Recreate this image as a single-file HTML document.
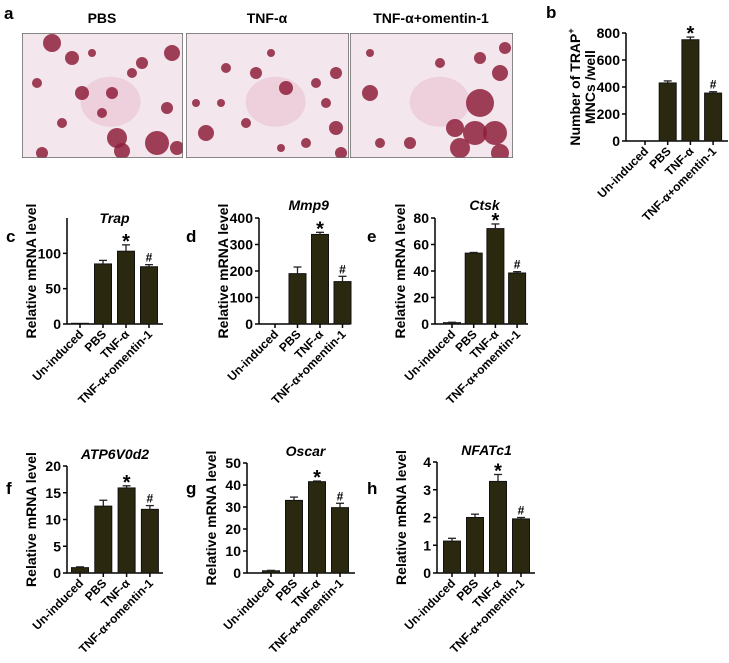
<!DOCTYPE html>
<html><head><meta charset="utf-8"><style>
body{margin:0;background:#fff;}
svg{display:block;font-family:"Liberation Sans",Arial,sans-serif;}
</style></head><body>
<svg id="fig" width="729" height="663" viewBox="0 0 729 663">
<defs>
<clipPath id="c0"><rect x="22" y="33" width="161" height="125"/></clipPath>
<clipPath id="c1"><rect x="186" y="33" width="163" height="125"/></clipPath>
<clipPath id="c2"><rect x="350" y="33" width="163" height="125"/></clipPath>
</defs>
<g>
<text x="4" y="19" font-size="17" font-weight="bold">a</text>
<text x="102" y="23" font-size="14" font-weight="bold" text-anchor="middle">PBS</text>
<text x="267" y="23" font-size="14" font-weight="bold" text-anchor="middle">TNF-α</text>
<text x="431" y="23" font-size="14" font-weight="bold" text-anchor="middle">TNF-α+omentin-1</text>
<g id="imgs"></g>
</g>
<g id="charts"></g>
</svg>
<script>
const categories=["Un-induced","PBS","TNF-α","TNF-α+omentin-1"];
const bVals=[0,430,750,355], bErr=[0,15,20,10], bTicks=[0,200,400,600,800];
const cVals=[1,85,103,81], cErr=[0,5,9,3], cTicks=[0,50,100];
const dVals=[0,190,338,160], dErr=[0,25,8,20], dTicks=[0,100,200,300,400];
const eVals=[1,53.5,72,38.5], eErr=[0.3,0.5,3.5,1], eTicks=[0,20,40,60,80];
const fVals=[1,12.5,15.9,11.9], fErr=[0.15,1.1,0.4,0.7], fTicks=[0,5,10,15,20];
const gVals=[1,33,41.5,29.7], gErr=[0.2,1.5,0.3,2], gTicks=[0,10,20,30,40,50];
const hVals=[1.15,2.0,3.3,1.95], hErr=[0.1,0.12,0.25,0.05], hTicks=[0,1,2,3,4];
const marks=["","","*","#"];
const NS="http://www.w3.org/2000/svg";
function mk(tag,attrs,parent){const e=document.createElementNS(NS,tag);for(const k in attrs)e.setAttribute(k,attrs[k]);parent.appendChild(e);return e;}

const imgs=document.getElementById('imgs');
const boxes=[[22,33,161,125],[186,33,163,125],[350,33,163,125]];
const blobs=[
 [[30,10,9],[50,25,7],[120,30,6],[150,20,8],[135,110,12],[95,105,10],[60,60,7],[90,60,6],[40,90,5],[110,40,5],[70,20,4],[15,50,5],[145,75,6],[80,80,5],[100,118,8],[20,120,6],[155,115,7]],
 [[40,35,5],[70,40,6],[100,55,7],[130,50,5],[150,40,6],[20,100,8],[60,90,5],[150,95,7],[120,110,5],[85,20,4],[35,70,4],[140,70,5],[95,115,4],[155,120,6],[10,70,4]],
 [[20,60,8],[130,70,14],[145,100,12],[110,115,10],[150,40,8],[60,110,6],[30,110,5],[90,30,5],[130,25,6],[105,95,9],[155,15,6],[20,20,4],[125,100,12],[150,120,9]]];
boxes.forEach((b,i)=>{
 const g=mk('g',{'clip-path':'url(#c'+i+')'},imgs);
 
 
 mk('rect',{x:b[0],y:b[1],width:b[2],height:b[3],fill:'#f3e6ec'},g);
 mk('ellipse',{cx:b[0]+b[2]*0.55,cy:b[1]+b[3]*0.55,rx:30,ry:25,fill:'#eccbd8',opacity:0.8},g);
 blobs[i].forEach(p=>mk('circle',{cx:b[0]+p[0],cy:b[1]+p[1],r:p[2],fill:'#8e1f3c',opacity:0.85},g));
 mk('rect',{x:b[0],y:b[1],width:b[2],height:b[3],fill:'none',stroke:'#666','stroke-width':1.5},g);
});

const charts=document.getElementById('charts');
function chart(o){
 const g=mk('g',{},charts);
 
 
 const sy=v=>o.y0-(v/o.max)*(o.y0-o.yTop);
 const sx=i=>o.x0+o.first+i*o.step;
 const L=mk('text',{x:o.lx,y:o.ly,'font-size':17,'font-weight':'bold'},g);L.textContent=o.id;
 
 
 if(o.title){const t=mk('text',{x:sx(1.5),y:o.ty,'font-size':14,'font-weight':'bold','font-style':'italic','text-anchor':'middle'},g);t.textContent=o.title;
  
  }
 o.ytitle.forEach((s,k)=>{
  const yt=mk('text',{transform:`translate(${o.x0-o.ytOff+k*15},${(o.y0+o.yTop)/2}) rotate(-90)`,'font-size':14,'font-weight':'bold','text-anchor':'middle'},g);
  
  
  yt.innerHTML=s;
 });
 const ya=mk('line',{x1:o.x0,y1:o.yTop,x2:o.x0,y2:o.y0,stroke:'#000','stroke-width':1.5},g);
 
 
 const xa=mk('line',{x1:o.x0,y1:o.y0,x2:o.xEnd,y2:o.y0,stroke:'#000','stroke-width':1.5},g);
 
 
 o.ticks.forEach(t=>{
  mk('line',{x1:o.x0-4,y1:sy(t),x2:o.x0,y2:sy(t),stroke:'#000','stroke-width':1.5},g);
  const tl=mk('text',{x:o.x0-6,y:sy(t)+5,'font-size':14,'font-weight':'bold','text-anchor':'end'},g);tl.textContent=t;
  
  
 });
 o.vals.forEach((v,i)=>{
  const cx=sx(i), w=17;
  mk('line',{x1:cx,y1:o.y0,x2:cx,y2:o.y0+4,stroke:'#000','stroke-width':1.5},g);
  if(v>0){
   const r=mk('rect',{x:cx-w/2,y:sy(v),width:w,height:o.y0-sy(v),fill:'#2b2810',stroke:'#111','stroke-width':1},g);
   
   
  }
  const e=o.err[i];
  if(e>0){
   mk('line',{x1:cx,y1:sy(v),x2:cx,y2:sy(v+e),stroke:'#222','stroke-width':1.3},g);
   mk('line',{x1:cx-4,y1:sy(v+e),x2:cx+4,y2:sy(v+e),stroke:'#222','stroke-width':1.3},g);
  }
  if(marks[i]){
   const m=mk('text',{x:cx,y:sy(v+e)-(marks[i]=='*'?-3:3),'font-size':marks[i]=='*'?20:12,'font-weight':'bold','text-anchor':'middle'},g);
   m.textContent=marks[i];
   
   
  }
  const cl=mk('text',{transform:`translate(${cx+4},${o.y0+11}) rotate(-45)`,'font-size':12,'font-weight':'bold','text-anchor':'end'},g);
  cl.textContent=categories[i];
  
  
 });
}
const mrna=["Relative mRNA level"];
chart({id:'b',vals:bVals,err:bErr,ticks:bTicks,max:800,x0:626,y0:141,yTop:33,first:19,step:22.7,xEnd:728,lx:546,ly:18,title:'',ty:0,ytitle:['Number of TRAP<tspan font-size="9" dy="-6">+</tspan>','MNCs /well'],ytOff:46});
chart({id:'c',vals:cVals,err:cErr,ticks:cTicks,max:150,x0:67,y0:324,yTop:218,first:13,step:23,xEnd:163,lx:6,ly:242,title:'Trap',ty:223,ytitle:mrna,ytOff:31});
chart({id:'d',vals:dVals,err:dErr,ticks:dTicks,max:400,x0:259,y0:324,yTop:218,first:16,step:22.5,xEnd:350,lx:186,ly:242,title:'Mmp9',ty:210,ytitle:mrna,ytOff:31});
chart({id:'e',vals:eVals,err:eErr,ticks:eTicks,max:80,x0:435,y0:324,yTop:218,first:17,step:21.7,xEnd:528,lx:367,ly:242,title:'Ctsk',ty:210,ytitle:mrna,ytOff:30});
chart({id:'f',vals:fVals,err:fErr,ticks:fTicks,max:20,x0:67,y0:573,yTop:466,first:13,step:23.3,xEnd:163,lx:6,ly:494,title:'ATP6V0d2',ty:459,ytitle:mrna,ytOff:31});
chart({id:'g',vals:gVals,err:gErr,ticks:gTicks,max:50,x0:247,y0:573,yTop:463,first:24,step:23,xEnd:355,lx:186,ly:494,title:'Oscar',ty:456,ytitle:mrna,ytOff:31});
chart({id:'h',vals:hVals,err:hErr,ticks:hTicks,max:4,x0:437,y0:573,yTop:462,first:15,step:23,xEnd:535,lx:367,ly:494,title:'NFATc1',ty:455,ytitle:mrna,ytOff:31});
</script>
</body></html>
